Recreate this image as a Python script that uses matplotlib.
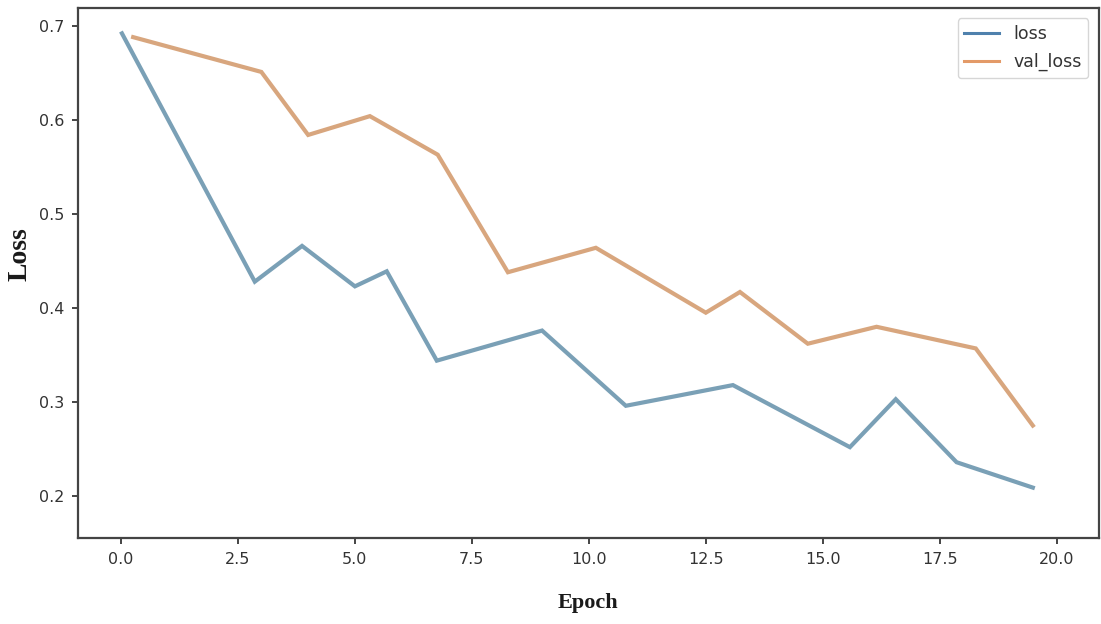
import matplotlib
matplotlib.use("Agg")
import matplotlib.pyplot as plt

# Training history (epoch positions and loss values)
loss_epoch = [0.02, 2.86, 3.87, 5.0, 5.68, 6.75, 9.0, 10.79, 13.08, 15.58, 16.56, 17.86, 19.49]
loss_vals = [0.692, 0.428, 0.466, 0.423, 0.439, 0.344, 0.376, 0.296, 0.318, 0.252, 0.303, 0.236, 0.209]

val_epoch = [0.26, 3.0, 4.0, 5.32, 6.77, 8.27, 10.15, 12.5, 13.23, 14.68, 16.15, 18.27, 19.49]
val_vals = [0.688, 0.651, 0.584, 0.604, 0.563, 0.438, 0.464, 0.395, 0.417, 0.362, 0.380, 0.357, 0.275]

x_ticks = [0.0, 2.5, 5.0, 7.5, 10.0, 12.5, 15.0, 17.5, 20.0]
y_ticks = [0.2, 0.3, 0.4, 0.5, 0.6, 0.7]

fig = plt.figure(figsize=(11.01, 6.24), dpi=100)
ax = fig.add_axes([0.0708, 0.1378, 0.9272, 0.8494])

ax.plot(loss_epoch, loss_vals, color="#7aa0b6", lw=3.0, label="loss", solid_joinstyle="miter")
ax.plot(val_epoch, val_vals, color="#d8a67e", lw=3.0, label="val_loss", solid_joinstyle="miter")

ax.set_xlim(-0.92, 20.9)
ax.set_ylim(0.1554, 0.719)
ax.set_xticks(x_ticks)
ax.set_xticklabels([f"{t:.1f}" for t in x_ticks])
ax.set_yticks(y_ticks)
ax.set_yticklabels([f"{t:.1f}" for t in y_ticks])

ax.tick_params(axis="both", labelsize=11.5, labelcolor="#333333", color="#444444",
               length=4, width=1.4, pad=6)
for s in ax.spines.values():
    s.set_color("#444444")
    s.set_linewidth(1.6)

ax.set_xlabel("Epoch", fontsize=16, fontweight="bold", family="Liberation Serif",
              color="#1a1a1a", labelpad=19)
ax.set_ylabel("Loss", fontsize=20, fontweight="bold", family="Liberation Serif",
              color="#1a1a1a")
ax.yaxis.set_label_coords(-0.045, 0.535)

leg = ax.legend(loc="upper right", fontsize=12.5, frameon=True, handlelength=2.0,
                borderaxespad=0.6, labelspacing=0.55, fancybox=True)
leg.get_frame().set_edgecolor("#cccccc")
leg.get_frame().set_linewidth(1.0)
for line, c in zip(leg.get_lines(), ["#4f81ad", "#e39a68"]):
    line.set_linewidth(2.2)
    line.set_color(c)
for t in leg.get_texts():
    t.set_color("#333333")

fig.savefig("out.png", dpi=100)
